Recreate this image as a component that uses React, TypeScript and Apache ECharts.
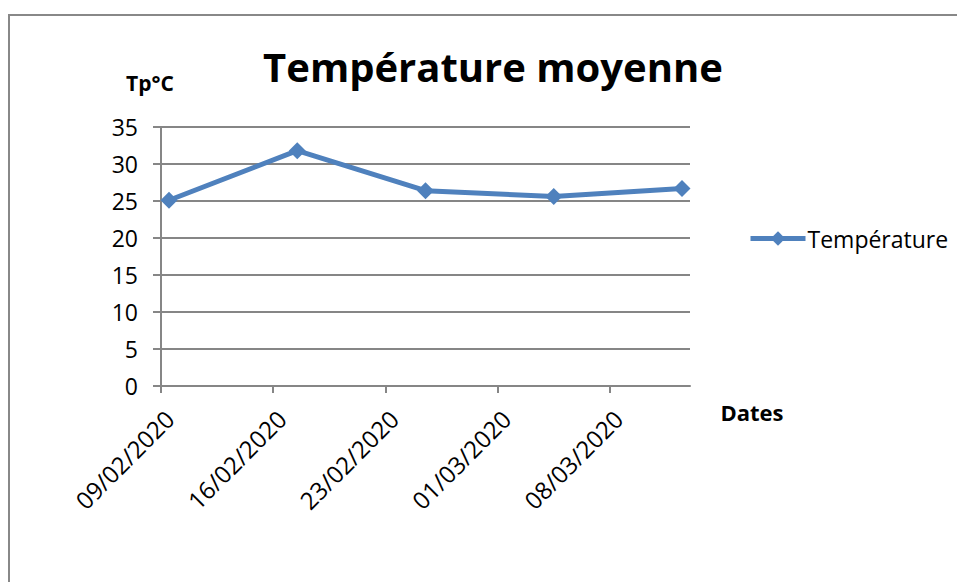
import React, { useEffect, useRef } from "react";
import * as echarts from "echarts";

const dates = ["09/02/2020", "17/02/2020", "25/02/2020", "04/03/2020", "12/03/2020"];
const temperatures = [25.1, 31.8, 26.4, 25.6, 26.7];
const axisStart = "09/02/2020";
const axisDays = 33;
const tickDays = [0, 7, 14, 21, 28];
const yTicks = [0, 5, 10, 15, 20, 25, 30, 35];

const DAY = 86400000;
const parse = (s: string) => {
  const [d, m, y] = s.split("/").map(Number);
  return Date.UTC(y, m - 1, d);
};
const fmt = (t: number) => {
  const d = new Date(t);
  const p = (n: number) => (n < 10 ? "0" + n : "" + n);
  return `${p(d.getUTCDate())}/${p(d.getUTCMonth() + 1)}/${d.getUTCFullYear()}`;
};

export default function App() {
  const ref = useRef<HTMLDivElement>(null);
  useEffect(() => {
    if (!ref.current) return;
    const chart = echarts.init(ref.current, undefined, { renderer: "svg" });
    const base = parse(axisStart);
    const font = "'Open Sans', sans-serif";
    const blue = "#4F81BD";
    const gray = "#868686";
    const data = dates.map((d, i) => [(parse(d) - base) / DAY + 0.5, temperatures[i]]);
    chart.setOption({
      animation: false,
      backgroundColor: "#fff",
      textStyle: { fontFamily: font },
      title: {
        text: "Température moyenne",
        left: 488,
        top: 41,
        textAlign: "center",
        textStyle: { fontFamily: font, fontSize: 40, fontWeight: "bold", color: "#000" },
      },
      graphic: [
        {
          type: "rect",
          shape: { x: 9, y: 15, width: 1000, height: 700 },
          style: { fill: "none", stroke: "#888", lineWidth: 2 },
          silent: true,
        },
        {
          type: "text",
          x: 150,
          y: 83,
          style: {
            text: "Tp°C",
            fontFamily: font,
            fontSize: 21,
            fontWeight: "bold",
            fill: "#000",
            align: "center",
            verticalAlign: "middle",
          },
        },
        {
          type: "text",
          x: 752,
          y: 412,
          style: {
            text: "Dates",
            fontFamily: font,
            fontSize: 22,
            fontWeight: "bold",
            fill: "#000",
            align: "center",
            verticalAlign: "middle",
          },
        },
      ],
      legend: {
        left: 743,
        top: 222,
        orient: "vertical",
        itemWidth: 55,
        itemHeight: 18,
        itemGap: 4,
        data: ["Température"],
        lineStyle: { width: 5 },
        textStyle: { fontFamily: font, fontSize: 23, color: "#000", padding: [0, 0, 0, -3] },
      },
      grid: { left: 161, right: 267, top: 127, bottom: 196, containLabel: false },
      xAxis: {
        type: "value",
        min: 0,
        max: axisDays,
        interval: 7,
        splitLine: { show: false },
        axisLine: { show: true, lineStyle: { color: gray, width: 2 } },
        axisTick: { show: true, length: 7, customValues: tickDays, lineStyle: { color: gray, width: 2 } },
        axisLabel: {
          customValues: tickDays,
          rotate: 45,
          margin: 20,
          verticalAlign: "top",
          fontFamily: font,
          fontSize: 24,
          color: "#000",
          formatter: (v: number) => fmt(base + v * DAY),
        },
      },
      yAxis: {
        type: "value",
        min: yTicks[0],
        max: yTicks[yTicks.length - 1],
        interval: 5,
        axisLine: { show: true, lineStyle: { color: gray, width: 2 } },
        axisTick: { show: true, length: 8, lineStyle: { color: gray, width: 2 } },
        splitLine: { show: true, lineStyle: { color: gray, width: 2 } },
        axisLabel: { margin: 23, fontFamily: font, fontSize: 23, color: "#000" },
      },
      series: [
        {
          name: "Température",
          type: "line",
          data,
          symbol: "diamond",
          symbolSize: 17,
          color: blue,
          lineStyle: { color: blue, width: 5 },
          itemStyle: { color: blue },
        },
      ],
    });
    return () => chart.dispose();
  }, []);
  return <div ref={ref} style={{ position: "fixed", left: 0, top: 0, width: 957, height: 582 }} />;
}
